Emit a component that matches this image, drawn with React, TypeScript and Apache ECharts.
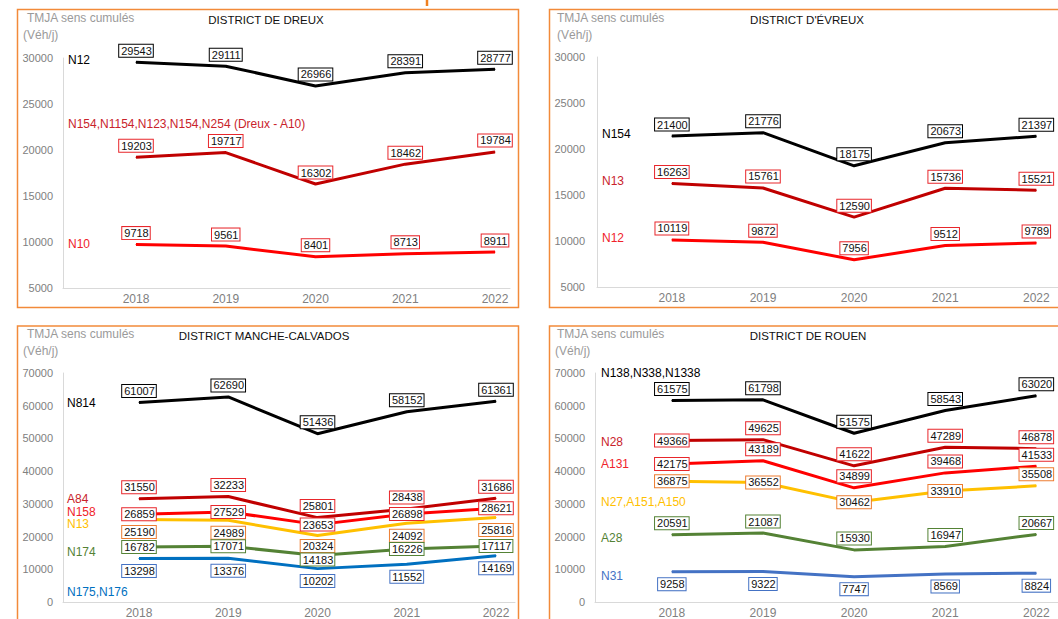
import React, { useEffect, useRef } from "react";
import * as echarts from "echarts";

const years = [2018, 2019, 2020, 2021, 2022];

const dreuxNames = ["N12", "N154,N1154,N123,N154,N254 (Dreux - A10)", "N10"];
const dreuxN12 = [29543, 29111, 26966, 28391, 28777];
const dreuxN154 = [19203, 19717, 16302, 18462, 19784];
const dreuxN10 = [9718, 9561, 8401, 8713, 8911];

const evreuxNames = ["N154", "N13", "N12"];
const evreuxN154 = [21400, 21776, 18175, 20673, 21397];
const evreuxN13 = [16263, 15761, 12590, 15736, 15521];
const evreuxN12 = [10119, 9872, 7956, 9512, 9789];

const mancheNames = ["N814", "A84", "N158", "N13", "N174", "N175,N176"];
const mancheN814 = [61007, 62690, 51436, 58152, 61361];
const mancheA84 = [31550, 32233, 25801, 28438, 31686];
const mancheN158 = [26859, 27529, 23653, 26898, 28621];
const mancheN13 = [25190, 24989, 20324, 24092, 25816];
const mancheN174 = [16782, 17071, 14183, 16226, 17117];
const mancheN175 = [13298, 13376, 10202, 11552, 14169];

const rouenNames = ["N138,N338,N1338", "N28", "A131", "N27,A151,A150", "A28", "N31"];
const rouenN138 = [61575, 61798, 51575, 58543, 63020];
const rouenN28 = [49366, 49625, 41622, 47289, 46878];
const rouenA131 = [42175, 43189, 34899, 39468, 41533];
const rouenN27 = [36875, 36552, 30462, 33910, 35508];
const rouenA28 = [20591, 21087, 15930, 16947, 20667];
const rouenN31 = [9258, 9322, 7747, 8569, 8824];

const titles = ["DISTRICT DE DREUX", "DISTRICT D'ÉVREUX", "DISTRICT MANCHE-CALVADOS", "DISTRICT DE ROUEN"];
const yRangeSmall = { min: 5000, max: 30000, interval: 5000 };
const yRangeLarge = { min: 0, max: 70000, interval: 10000 };

const FONT = "'Liberation Sans', Arial, sans-serif";
const C = {
  black: "#000000",
  dark: "#C00000",
  red: "#FF0000",
  yellow: "#FFC000",
  green: "#548235",
  blue: "#0070C0",
  blue2: "#4472C4",
  orange: "#ED7D31",
  labRed: "#E8262B",
  nameDark: "#C9232B",
  nameRed: "#F0222A",
};

type Over = { position?: string; offset?: number[] };
type S = {
  name: string;
  data: number[];
  line: string;
  box: string;
  nameColor: string;
  pos: string;
  over?: Record<number, Over>;
  ny: number;
};

type P = {
  title: string;
  tx: number;
  ty: number;
  bx: number;
  by: number;
  bw: number;
  bh: number;
  L: number;
  R: number;
  T: number;
  B: number;
  a: number;
  b: number;
  y: { min: number; max: number; interval: number };
  ylm: number;
  unitX: number;
  unitX2: number;
  unitY: number;
  nx: number;
  series: S[];
};

const panels: P[] = [
  {
    title: titles[0], tx: 266, ty: 20, bx: 17.5, by: 9.5, bw: 501, bh: 298,
    L: 63, R: 510, T: 58, B: 288, a: 136, b: 495, y: yRangeSmall, ylm: 10,
    unitX: 27, unitX2: 23, unitY: 18, nx: 68,
    series: [
      { name: dreuxNames[0], data: dreuxN12, line: C.black, box: C.black, nameColor: C.black, pos: "top", ny: 60 },
      { name: dreuxNames[1], data: dreuxN154, line: C.dark, box: C.labRed, nameColor: C.nameDark, pos: "top", ny: 124 },
      { name: dreuxNames[2], data: dreuxN10, line: C.red, box: C.labRed, nameColor: C.nameRed, pos: "top", ny: 244 },
    ],
  },
  {
    title: titles[1], tx: 807, ty: 20, bx: 549.5, by: 9.5, bw: 530, bh: 298,
    L: 597, R: 1065, T: 57, B: 287, a: 673, b: 1043, y: yRangeSmall, ylm: 12,
    unitX: 557, unitX2: 557, unitY: 18, nx: 602,
    series: [
      { name: evreuxNames[0], data: evreuxN154, line: C.black, box: C.black, nameColor: C.black, pos: "top", ny: 134 },
      { name: evreuxNames[1], data: evreuxN13, line: C.dark, box: C.labRed, nameColor: C.nameDark, pos: "top", ny: 181 },
      { name: evreuxNames[2], data: evreuxN12, line: C.red, box: C.labRed, nameColor: C.nameRed, pos: "top", ny: 238 },
    ],
  },
  {
    title: titles[2], tx: 264, ty: 336, bx: 17.5, by: 326, bw: 501, bh: 400,
    L: 63, R: 515, T: 373, B: 606, a: 139, b: 496, y: yRangeLarge, ylm: 10,
    unitX: 27, unitX2: 23, unitY: 334, nx: 67,
    series: [
      { name: mancheNames[0], data: mancheN814, line: C.black, box: C.black, nameColor: C.black, pos: "top", ny: 403 },
      { name: mancheNames[1], data: mancheA84, line: C.dark, box: C.labRed, nameColor: C.nameDark, pos: "top", ny: 499 },
      { name: mancheNames[2], data: mancheN158, line: C.red, box: C.labRed, nameColor: C.nameRed, pos: "inside", ny: 512 },
      { name: mancheNames[3], data: mancheN13, line: C.yellow, box: C.orange, nameColor: C.yellow, pos: "bottom", over: { 2: { offset: [0, -2] } }, ny: 524 },
      { name: mancheNames[4], data: mancheN174, line: C.green, box: C.green, nameColor: C.green, pos: "inside", over: { 2: { offset: [0, 4] } }, ny: 552 },
      { name: mancheNames[5], data: mancheN175, line: C.blue, box: C.blue2, nameColor: C.blue, pos: "bottom", ny: 592 },
    ],
  },
  {
    title: titles[3], tx: 808, ty: 336, bx: 549.5, by: 326, bw: 530, bh: 400,
    L: 595, R: 1065, T: 373, B: 607, a: 673, b: 1043, y: yRangeLarge, ylm: 10,
    unitX: 557, unitX2: 555, unitY: 334, nx: 601,
    series: [
      { name: rouenNames[0], data: rouenN138, line: C.black, box: C.black, nameColor: C.black, pos: "top", ny: 373 },
      { name: rouenNames[1], data: rouenN28, line: C.dark, box: C.labRed, nameColor: C.nameDark, pos: "top", over: { 0: { position: "inside" } }, ny: 442 },
      { name: rouenNames[2], data: rouenA131, line: C.red, box: C.labRed, nameColor: C.nameRed, pos: "top", over: { 0: { position: "inside" } }, ny: 464 },
      { name: rouenNames[3], data: rouenN27, line: C.yellow, box: C.orange, nameColor: C.yellow, pos: "inside", over: { 4: { position: "top" } }, ny: 502 },
      { name: rouenNames[4], data: rouenA28, line: C.green, box: C.green, nameColor: C.green, pos: "top", ny: 538 },
      { name: rouenNames[5], data: rouenN31, line: C.blue2, box: C.blue2, nameColor: C.blue2, pos: "bottom", ny: 576 },
    ],
  },
];

function labelFor(pos: string, box: string) {
  return {
    show: true,
    position: pos,
    distance: pos === "bottom" ? 6 : 5,
    color: "#111111",
    fontFamily: FONT,
    fontSize: 11,
    lineHeight: 12,
    backgroundColor: "#ffffff",
    borderColor: box,
    borderWidth: 1,
    padding: [0, 1, 0, 2],
  };
}

function buildOption() {
  const grid: any[] = [];
  const xAxis: any[] = [];
  const yAxis: any[] = [];
  const series: any[] = [];
  const graphic: any[] = [];

  graphic.push({
    type: "line",
    shape: { x1: 427, y1: 0, x2: 427, y2: 6 },
    style: { stroke: "#F08020", lineWidth: 2.5 },
  });

  panels.forEach((p, i) => {
    const ppy = (p.b - p.a) / 4;
    const xMin = years[0] - (p.a - p.L) / ppy;
    const xMax = years[years.length - 1] + (p.R - p.b) / ppy;
    grid.push({ left: p.L, top: p.T, width: p.R - p.L, height: p.B - p.T, containLabel: false });
    xAxis.push({
      type: "value",
      gridIndex: i,
      min: xMin,
      max: xMax,
      axisLine: { show: true, lineStyle: { color: "#d9d9d9", width: 1 } },
      axisTick: { show: false },
      splitLine: { show: false },
      axisLabel: {
        customValues: years,
        color: "#808080",
        fontFamily: FONT,
        fontSize: 12,
        margin: 5,
        formatter: (v: number) => String(Math.round(v)),
      },
    });
    yAxis.push({
      type: "value",
      gridIndex: i,
      min: p.y.min,
      max: p.y.max,
      interval: p.y.interval,
      axisLine: { show: true, lineStyle: { color: "#d9d9d9", width: 1 } },
      axisTick: { show: false },
      splitLine: { show: false },
      axisLabel: {
        color: "#808080",
        fontFamily: FONT,
        fontSize: 11,
        margin: p.ylm,
        formatter: (v: number) => String(v),
      },
    });

    p.series.forEach((s) => {
      series.push({
        type: "line",
        name: s.name,
        xAxisIndex: i,
        yAxisIndex: i,
        symbol: "circle",
        symbolSize: 1,
        itemStyle: { color: s.line },
        lineStyle: { color: s.line, width: 3 },
        label: labelFor(s.pos, s.box),
        data: s.data.map((v, k) => {
          const o = s.over && s.over[k];
          return o ? { value: [years[k], v], label: { ...o } } : { value: [years[k], v] };
        }),
        z: 2,
      });
      graphic.push({
        type: "text",
        x: p.nx,
        y: s.ny,
        style: {
          text: s.name,
          fill: s.nameColor,
          font: `12px ${FONT}`,
          textVerticalAlign: "middle",
          textAlign: "left",
        },
        z: 5,
      });
    });

    graphic.push({
      type: "rect",
      shape: { x: p.bx, y: p.by, width: p.bw, height: p.bh },
      style: { fill: "none", stroke: "#F28A3A", lineWidth: 1.5 },
      z: 1,
    });
    graphic.push({
      type: "text",
      x: p.tx,
      y: p.ty,
      style: {
        text: p.title,
        fill: "#111111",
        font: `11.5px ${FONT}`,
        textAlign: "center",
        textVerticalAlign: "middle",
      },
    });
    graphic.push({
      type: "text",
      x: p.unitX,
      y: p.unitY,
      style: {
        text: "TMJA sens cumulés",
        fill: "#9a9a9a",
        font: `12px ${FONT}`,
        textAlign: "left",
        textVerticalAlign: "middle",
      },
    });
    graphic.push({
      type: "text",
      x: p.unitX2,
      y: p.unitY + 16.5,
      style: {
        text: "(Véh/j)",
        fill: "#9a9a9a",
        font: `12px ${FONT}`,
        textAlign: "left",
        textVerticalAlign: "middle",
      },
    });
  });

  return {
    animation: false,
    backgroundColor: "#ffffff",
    textStyle: { fontFamily: FONT },
    grid,
    xAxis,
    yAxis,
    series,
    graphic,
  };
}

export default function App() {
  const ref = useRef<HTMLDivElement>(null);
  useEffect(() => {
    if (!ref.current) return;
    const chart = echarts.init(ref.current, undefined, { renderer: "svg" });
    chart.setOption(buildOption() as any);
    return () => chart.dispose();
  }, []);
  return (
    <div
      ref={ref}
      style={{ position: "absolute", left: 0, top: 0, width: 1058, height: 619, background: "#fff" }}
    />
  );
}
